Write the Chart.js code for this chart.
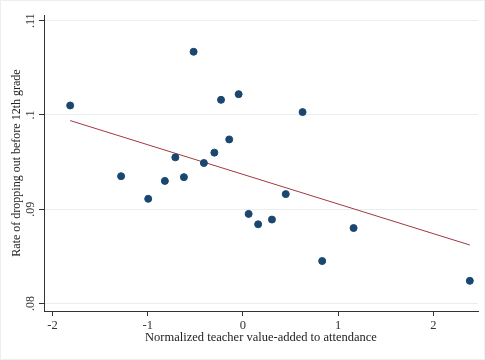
<!DOCTYPE html>
<html>
<head>
<meta charset="utf-8">
<script src="https://cdn.jsdelivr.net/npm/chart.js@4.4.1/dist/chart.umd.min.js"></script>
<style>
  html, body { margin: 0; padding: 0; background: #fff; }
  #wrap { width: 485px; height: 360px; position: relative; }
</style>
</head>
<body>
<div id="wrap"><canvas id="dropoutChart" width="485" height="360"></canvas></div>
<script>
// binned scatter: teacher VA to attendance vs dropout rate
const teacherVA = [-1.815, -1.28, -0.995, -0.82, -0.71, -0.62, -0.518, -0.41, -0.30, -0.23,
                   -0.144, -0.045, 0.06, 0.16, 0.305, 0.45, 0.627, 0.833, 1.163, 2.384];
const dropoutRate = [0.1010, 0.0935, 0.0911, 0.0930, 0.0955, 0.0934, 0.1067, 0.0949, 0.0960, 0.1016,
                     0.0974, 0.1022, 0.0895, 0.0884, 0.0889, 0.0916, 0.1003, 0.0845, 0.0880, 0.0824];

// linear fit end points
const fitX = [-1.815, 2.384];
const fitY = [0.0994, 0.0862];

const xTicks = [-2, -1, 0, 1, 2];
const yTicks = [0.08, 0.09, 0.1, 0.11];
const yTickLabels = ['.08', '.09', '.1', '.11'];

const serif = '"Liberation Serif", "Times New Roman", serif';

// y tick labels are rotated like in Stata, draw them by hand
const rotatedYLabels = {
    id: 'rotatedYLabels',
    afterDraw(chart) {
        const ctx = chart.ctx;
        const y = chart.scales.y;
        ctx.save();
        ctx.font = '12px ' + serif;
        ctx.fillStyle = '#333';
        ctx.textAlign = 'center';
        ctx.textBaseline = 'middle';
        yTicks.forEach((v, i) => {
            ctx.save();
            ctx.translate(31, y.getPixelForValue(v));
            ctx.rotate(-Math.PI / 2);
            ctx.fillText(yTickLabels[i], 0, 0);
            ctx.restore();
        });
        ctx.restore();
    },
    beforeDraw(chart) {
        // faint outer frame
        const ctx = chart.ctx;
        ctx.save();
        ctx.strokeStyle = '#eaf0f2';
        ctx.lineWidth = 1;
        ctx.strokeRect(0.5, 0.5, chart.width - 1, chart.height - 1);
        ctx.restore();
    }
};

const dropoutChart = new Chart(document.getElementById('dropoutChart').getContext('2d'), {
    type: 'scatter',
    data: {
        datasets: [{
            label: 'Binned means',
            data: teacherVA.map((x, i) => ({ x: x, y: dropoutRate[i] })),
            backgroundColor: '#1a476f',
            borderColor: '#1a476f',
            pointRadius: 3.5,
            pointHoverRadius: 3.5,
            order: 1
        }, {
            label: 'Fit',
            type: 'line',
            data: fitX.map((x, i) => ({ x: x, y: fitY[i] })),
            borderColor: '#a0393f',
            borderWidth: 1,
            pointRadius: 0,
            fill: false,
            order: 2
        }]
    },
    options: {
        responsive: false,
        animation: false,
        layout: { padding: { left: 0, right: 7, top: 15, bottom: 0 } },
        plugins: {
            legend: { display: false },
            tooltip: { enabled: false }
        },
        scales: {
            x: {
                type: 'linear',
                min: -2.09,
                max: 2.47,
                afterBuildTicks: (scale) => { scale.ticks = xTicks.map(v => ({ value: v })); },
                afterFit: (scale) => { scale.height = 49; },
                border: { color: '#333', width: 1 },
                grid: { drawOnChartArea: false, tickLength: 5, tickColor: '#333' },
                ticks: { color: '#333', padding: 2, maxRotation: 0, font: { family: serif, size: 12.5 } },
                title: {
                    display: true,
                    text: 'Normalized teacher value-added to attendance',
                    color: '#222',
                    font: { family: serif, size: 12.5 },
                    padding: { top: 0, bottom: 15 }
                }
            },
            y: {
                type: 'linear',
                min: 0.0792,
                max: 0.1106,
                afterBuildTicks: (scale) => { scale.ticks = yTicks.map(v => ({ value: v })); },
                afterFit: (scale) => { scale.width = 44; },
                border: { color: '#333', width: 1 },
                grid: { color: '#e8eff1', lineWidth: 1, tickLength: 5, tickColor: '#333' },
                ticks: { display: false },
                title: {
                    display: true,
                    text: 'Rate of dropping out before 12th grade',
                    color: '#222',
                    font: { family: serif, size: 12 },
                    padding: { top: 10, bottom: 0 }
                }
            }
        }
    },
    plugins: [rotatedYLabels]
});
</script>
</body>
</html>
